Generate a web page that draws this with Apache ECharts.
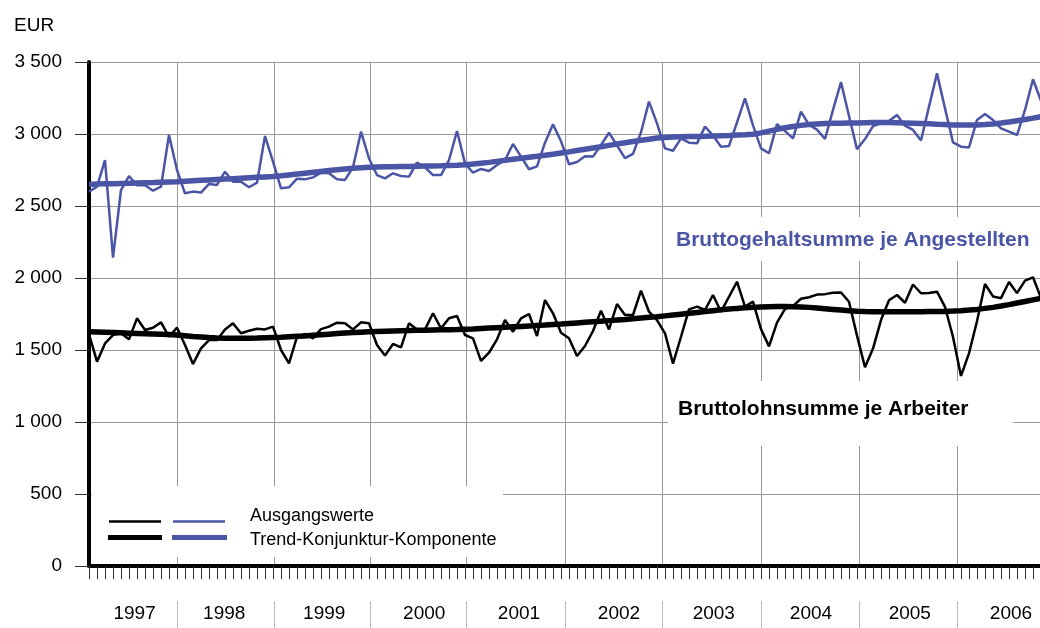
<!DOCTYPE html>
<html>
<head>
<meta charset="utf-8">
<script src="https://cdn.jsdelivr.net/npm/echarts@6/dist/echarts.min.js"></script>
<style>
html, body { margin: 0; padding: 0; background: #fff; }
#chart { width: 1040px; height: 628px; }
</style>
</head>
<body>
<div id="chart"></div>
<script>
// monthly values, Feb 1997 .. Jan 2007 (x = 1 .. 120)
const blueRaw = [
    2600, 2634, 2819, 2141, 2611, 2708, 2644, 2644, 2606, 2634, 2993,
    2750, 2588, 2600, 2593, 2653, 2646, 2738, 2669, 2669, 2630, 2662, 2986,
    2808, 2623, 2630, 2690, 2685, 2699, 2731, 2727, 2685, 2681, 2769, 3016,
    2830, 2715, 2692, 2727, 2708, 2704, 2801, 2769, 2715, 2715, 2819, 3021,
    2796, 2731, 2757, 2743, 2785, 2819, 2931, 2843, 2755, 2775, 2940, 3067,
    2950, 2790, 2805, 2845, 2843, 2924, 3009, 2920, 2833, 2862, 3012, 3225,
    3074, 2900, 2884, 2970, 2940, 2935, 3051, 2990, 2912, 2917, 3080, 3248,
    3060, 2900, 2866, 3069, 3020, 2970, 3155, 3063, 3030, 2965, 3167, 3360,
    3125, 2895, 2965, 3055, 3074, 3090, 3132, 3058, 3028, 2955, 3190, 3421,
    3178, 2942, 2912, 2907, 3097, 3139, 3097, 3039, 3016, 2993, 3167, 3380,
    3230
];
const blueTrend = [
    2650, 2652, 2654, 2655, 2657, 2658, 2660, 2662, 2663, 2665, 2667,
    2669, 2672, 2675, 2678, 2681, 2684, 2687, 2690, 2693, 2696, 2699, 2702,
    2705, 2710, 2716, 2722, 2728, 2734, 2740, 2746, 2752, 2757, 2762, 2766,
    2769, 2771, 2772, 2773, 2774, 2775, 2776, 2777, 2778, 2779, 2781, 2783,
    2786, 2791, 2797, 2803, 2810, 2817, 2824, 2831, 2838, 2845, 2852, 2860,
    2868, 2876, 2885, 2894, 2903, 2912, 2921, 2930, 2939, 2948, 2956, 2964,
    2972, 2976, 2979, 2981, 2982, 2983, 2984, 2986, 2988, 2990, 2993, 2995,
    2998, 3008, 3020, 3032, 3043, 3052, 3060, 3066, 3070, 3073, 3074, 3075,
    3076, 3077, 3078, 3079, 3079, 3079, 3078, 3077, 3075, 3073, 3071, 3068,
    3066, 3063, 3062, 3062, 3063, 3066, 3070, 3076, 3083, 3092, 3101, 3110,
    3120
];
const blackRaw = [
    1610, 1419, 1546, 1604, 1616, 1574, 1720, 1639, 1655, 1692, 1592,
    1655, 1535, 1403, 1511, 1569, 1569, 1643, 1685, 1616, 1634, 1648, 1643,
    1662, 1500, 1407, 1592, 1611, 1581, 1645, 1662, 1690, 1685, 1643, 1692,
    1685, 1535, 1461, 1542, 1518, 1685, 1643, 1643, 1755, 1650, 1720, 1736,
    1604, 1581, 1424, 1481, 1574, 1708, 1627, 1720, 1750, 1597, 1847, 1755,
    1620, 1581, 1458, 1528, 1632, 1773, 1643, 1819, 1743, 1743, 1912, 1766,
    1708, 1616, 1405, 1592, 1782, 1801, 1778, 1882, 1766, 1870, 1974, 1801,
    1836, 1645, 1525, 1690, 1785, 1806, 1856, 1866, 1885, 1888, 1898, 1899,
    1835, 1600, 1380, 1510, 1708, 1845, 1882, 1828, 1955, 1894, 1896, 1905,
    1800, 1590, 1320, 1477, 1700, 1958, 1872, 1860, 1972, 1895, 1982, 2005,
    1860
];
const blackTrend = [
    1627, 1625, 1623, 1621, 1619, 1617, 1615, 1613, 1611, 1609, 1607,
    1604, 1599, 1594, 1590, 1586, 1583, 1582, 1581, 1581, 1582, 1583, 1585,
    1587, 1589, 1592, 1595, 1598, 1602, 1606, 1610, 1614, 1618, 1621, 1624,
    1626, 1628, 1630, 1632, 1634, 1636, 1637, 1638, 1639, 1640, 1641, 1642,
    1644, 1646, 1649, 1652, 1655, 1658, 1661, 1664, 1667, 1670, 1673, 1677,
    1680, 1684, 1688, 1692, 1696, 1700, 1704, 1708, 1712, 1717, 1722, 1727,
    1731, 1737, 1743, 1749, 1755, 1761, 1767, 1773, 1779, 1784, 1789, 1793,
    1796, 1799, 1801, 1802, 1802, 1801, 1799, 1796, 1792, 1787, 1782, 1777,
    1772, 1769, 1767, 1766, 1766, 1766, 1766, 1766, 1766, 1766, 1767, 1768,
    1768, 1770, 1773, 1777, 1782, 1789, 1796, 1805, 1815, 1826, 1837, 1848,
    1859
];

const yearLabels = ['1997', '1998', '1999', '2000', '2001', '2002', '2003', '2004', '2005', '2006'];
// where the year labels and year separators sit, in month units
const labelPos = [6.7, 17.9, 30.4, 42.9, 54.75, 67.25, 79.1, 91.25, 103.6, 116.25];
const yearLines = [12, 24.2, 36.2, 48.2, 60.5, 72.6, 85, 97.25, 109.5];

const FONT = '"Liberation Sans", Arial, Helvetica, sans-serif';
const BLUE = '#4a55a5';

const toXY = arr => arr.map((v, i) => [i + 1, v]);

const xMin = 1, xMax = 119.875;

const chart = echarts.init(document.getElementById('chart'));

const option = {
    animation: false,
    title: {
        text: 'EUR', left: 9, top: 11,
        textStyle: { fontFamily: FONT, fontSize: 19, fontWeight: 'normal', color: '#000' }
    },
    grid: { left: 89, right: 0, top: 62, bottom: 62 },
    xAxis: [
        {
            // month ticks
            type: 'value', position: 'bottom', min: xMin, max: xMax, interval: 1,
            axisLine: { show: true, lineStyle: { color: '#000', width: 4 } },
            axisTick: { show: true, length: 13, lineStyle: { color: '#333', width: 1 } },
            axisLabel: { show: false },
            splitLine: { show: false }
        },
        {
            // vertical year gridlines
            type: 'value', position: 'bottom', min: xMin, max: xMax,
            axisLine: { show: false },
            axisTick: { show: false, customValues: yearLines },
            axisLabel: { show: false },
            splitLine: { show: true, lineStyle: { color: '#999', width: 1 } }
        },
        {
            // separators and year labels below the axis
            type: 'value', position: 'bottom', min: xMin, max: xMax, offset: 35,
            axisLine: { show: false },
            axisTick: { show: true, customValues: yearLines, length: 28, lineStyle: { color: '#bbb', width: 1 } },
            axisLabel: {
                show: true, customValues: labelPos, margin: 3,
                fontFamily: FONT, fontSize: 19, color: '#000',
                formatter: v => {
                    let best = 0;
                    labelPos.forEach((p, i) => { if (Math.abs(p - v) < Math.abs(labelPos[best] - v)) best = i; });
                    return yearLabels[best];
                }
            },
            splitLine: { show: false }
        }
    ],
    yAxis: {
        type: 'value', min: 0, max: 3500, interval: 500,
        axisLine: { show: true, lineStyle: { color: '#000', width: 4 } },
        axisTick: { show: true, length: 14, lineStyle: { color: '#333', width: 1 } },
        axisLabel: {
            margin: 27, fontFamily: FONT, fontSize: 19, color: '#000',
            formatter: v => v >= 1000 ? Math.floor(v / 1000) + ' ' + String(v % 1000).padStart(3, '0') : String(v)
        },
        splitLine: { show: true, lineStyle: { color: '#999', width: 1 } }
    },
    series: [
        {
            name: 'Bruttolohn Ausgangswerte', type: 'line', data: toXY(blackRaw),
            showSymbol: false, lineStyle: { color: '#000', width: 2.5 }, z: 3
        },
        {
            name: 'Bruttogehalt Ausgangswerte', type: 'line', data: toXY(blueRaw),
            showSymbol: false, lineStyle: { color: BLUE, width: 2.5 }, z: 3
        },
        {
            name: 'Bruttolohn Trend', type: 'line', data: toXY(blackTrend),
            showSymbol: false, lineStyle: { color: '#000', width: 5.5 }, z: 4
        },
        {
            name: 'Bruttogehalt Trend', type: 'line', data: toXY(blueTrend),
            showSymbol: false, lineStyle: { color: BLUE, width: 5.5 }, z: 4
        }
    ],
    graphic: [
        // white boxes behind the annotations
        { type: 'rect', shape: { x: 668, y: 217, width: 372, height: 44 }, style: { fill: '#fff' }, z: 1 },
        { type: 'rect', shape: { x: 668, y: 381, width: 345, height: 65 }, style: { fill: '#fff' }, z: 1 },
        { type: 'rect', shape: { x: 92, y: 486, width: 411, height: 71 }, style: { fill: '#fff' }, z: 1 },
        {
            type: 'text', z: 2,
            style: { text: 'Bruttogehaltsumme je Angestellten', x: 676, y: 240, verticalAlign: 'middle',
                font: 'bold 21px ' + FONT, fill: BLUE }
        },
        {
            type: 'text', z: 2,
            style: { text: 'Bruttolohnsumme je Arbeiter', x: 678, y: 409, verticalAlign: 'middle',
                font: 'bold 21px ' + FONT, fill: '#000' }
        },
        // legend
        { type: 'line', z: 2, shape: { x1: 109, y1: 521.5, x2: 161, y2: 521.5 }, style: { stroke: '#000', lineWidth: 2.5 } },
        { type: 'line', z: 2, shape: { x1: 173, y1: 521.5, x2: 225, y2: 521.5 }, style: { stroke: BLUE, lineWidth: 2.5 } },
        { type: 'line', z: 2, shape: { x1: 108, y1: 537.5, x2: 162, y2: 537.5 }, style: { stroke: '#000', lineWidth: 5 } },
        { type: 'line', z: 2, shape: { x1: 172, y1: 537.5, x2: 227, y2: 537.5 }, style: { stroke: BLUE, lineWidth: 5 } },
        {
            type: 'text', z: 2,
            style: { text: 'Ausgangswerte', x: 250, y: 516, verticalAlign: 'middle', font: '18px ' + FONT, fill: '#000' }
        },
        {
            type: 'text', z: 2,
            style: { text: 'Trend-Konjunktur-Komponente', x: 250, y: 540, verticalAlign: 'middle', font: '18px ' + FONT, fill: '#000' }
        }
    ]
};

chart.setOption(option);
</script>
</body>
</html>
